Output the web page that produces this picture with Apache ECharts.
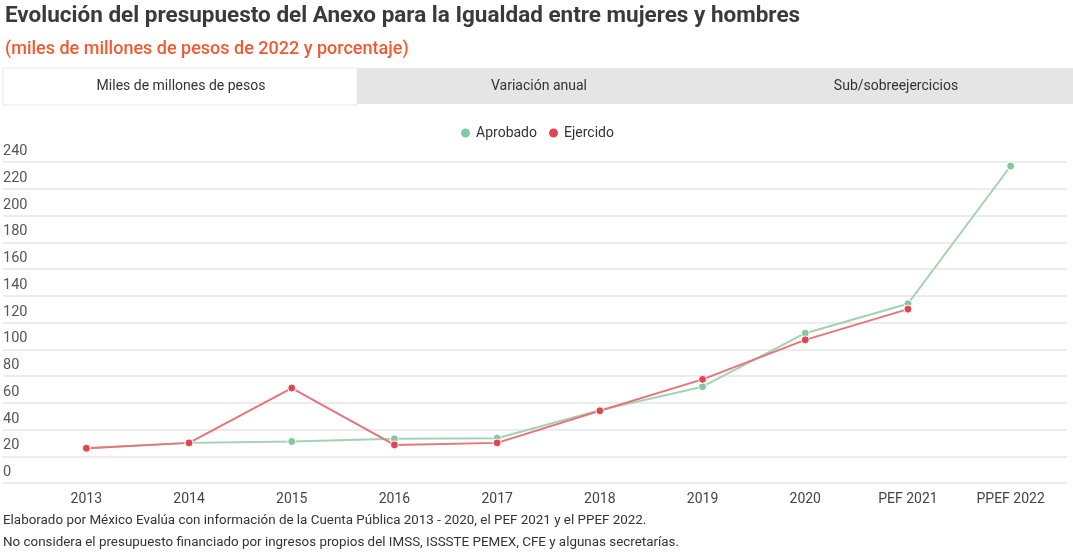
<!DOCTYPE html>
<html><head><meta charset="utf-8">
<script src="https://cdn.jsdelivr.net/npm/echarts@6/dist/echarts.min.js"></script>
<style>html,body{margin:0;padding:0;background:#fff}#c{width:1073px;height:554px}</style>
</head><body><div id="c"></div>
<script>
const categories = ['2013','2014','2015','2016','2017','2018','2019','2020','PEF 2021','PPEF 2022'];
const aprobado = [26, 30, 31, 33, 33.5, 54.5, 72, 112, 134, 237];
const ejercido = [26, 30, 71, 28.5, 30, 54, 77.5, 107, 130, null];
const yTicks = [0, 20, 40, 60, 80, 100, 120, 140, 160, 180, 200, 220, 240];
const tabs = ['Miles de millones de pesos', 'Variación anual', 'Sub/sobreejercicios'];
const titleText = 'Evolución del presupuesto del Anexo para la Igualdad entre mujeres y hombres';
const subtitleText = '(miles de millones de pesos de 2022 y porcentaje)';
const notes = ['Elaborado por México Evalúa con información de la Cuenta Pública 2013 - 2020, el PEF 2021 y el PPEF 2022.',
  'No considera el presupuesto financiado por ingresos propios del IMSS, ISSSTE PEMEX, CFE y algunas secretarías.'];

const FONT = 'Roboto';
const chart = echarts.init(document.getElementById('c'), null, {renderer: 'canvas'});
const yMin = yTicks[0], yMax = yTicks[yTicks.length - 1], yInt = yTicks[1] - yTicks[0];
const GREEN = '#86c6a0', RED = '#e04650';

chart.setOption({
  backgroundColor: '#fff',
  animation: false,
  textStyle: {fontFamily: FONT},
  title: [
    {text: titleText, left: 5, top: 5, padding: 0, textStyle: {fontFamily: FONT, fontSize: 22.5, fontWeight: 'bold', color: '#3a3a3a'}},
    {text: subtitleText, left: 5, top: 40, padding: 0, textStyle: {fontFamily: FONT, fontSize: 18, fontWeight: 500, color: '#f05a32'}}
  ],
  legend: {
    top: 121, left: 'center', itemWidth: 11, itemHeight: 11, itemGap: 10, icon: 'circle',
    textStyle: {fontFamily: FONT, fontSize: 14, color: '#333'},
    data: ['Aprobado', 'Ejercido']
  },
  graphic: [
    {type: 'rect', shape: {x: 357, y: 68, width: 716, height: 36}, style: {fill: '#e5e5e5'}, silent: true},
    {type: 'rect', shape: {x: 3, y: 68, width: 354, height: 37}, style: {fill: '#fff', stroke: '#e8e8e8', lineWidth: 1}, silent: true},
    {type: 'text', x: 181, y: 86, style: {text: tabs[0], fontFamily: FONT, fontSize: 14, fill: '#333', align: 'center', verticalAlign: 'middle'}},
    {type: 'text', x: 539, y: 86, style: {text: tabs[1], fontFamily: FONT, fontSize: 14, fill: '#333', align: 'center', verticalAlign: 'middle'}},
    {type: 'text', x: 896, y: 86, style: {text: tabs[2], fontFamily: FONT, fontSize: 14, fill: '#333', align: 'center', verticalAlign: 'middle'}},
    {type: 'text', x: 3, y: 521, style: {text: notes[0], fontFamily: FONT, fontSize: 13.4, fill: '#333', verticalAlign: 'middle'}},
    {type: 'text', x: 3, y: 543, style: {text: notes[1], fontFamily: FONT, fontSize: 13.4, fill: '#333', verticalAlign: 'middle'}}
  ],
  grid: [
    {left: 3, right: 6, top: 162, bottom: 71},
    {left: 35, right: 11, top: 162, bottom: 71}
  ],
  xAxis: [
    {gridIndex: 0, type: 'category', data: categories, show: false},
    {gridIndex: 1, type: 'category', data: categories, boundaryGap: true,
     axisLine: {show: false}, axisTick: {show: false},
     axisLabel: {margin: 9, fontFamily: FONT, fontSize: 14, color: '#444'}}
  ],
  yAxis: [
    {gridIndex: 0, type: 'value', min: yMin, max: yMax, interval: yInt,
     axisLine: {show: false}, axisTick: {show: false},
     splitLine: {lineStyle: {color: '#e6e6e6', width: 1.5}},
     axisLabel: {inside: true, margin: 0, verticalAlign: 'bottom', padding: [0, 0, 3, 0],
       fontFamily: FONT, fontSize: 14.5, color: '#555'}},
    {gridIndex: 1, type: 'value', min: yMin, max: yMax, interval: yInt, show: false, splitLine: {show: false}}
  ],
  series: [
    {name: 'Aprobado', type: 'line', xAxisIndex: 1, yAxisIndex: 1, data: aprobado,
     symbol: 'circle', symbolSize: 8, color: GREEN,
     lineStyle: {color: '#9fd3b2', width: 2},
     itemStyle: {color: GREEN, borderColor: '#fff', borderWidth: 1}},
    {name: 'Ejercido', type: 'line', xAxisIndex: 1, yAxisIndex: 1, data: ejercido,
     symbol: 'circle', symbolSize: 8, color: RED,
     lineStyle: {color: '#e8737a', width: 2},
     itemStyle: {color: RED, borderColor: '#fff', borderWidth: 1}}
  ]
});
</script></body></html>
